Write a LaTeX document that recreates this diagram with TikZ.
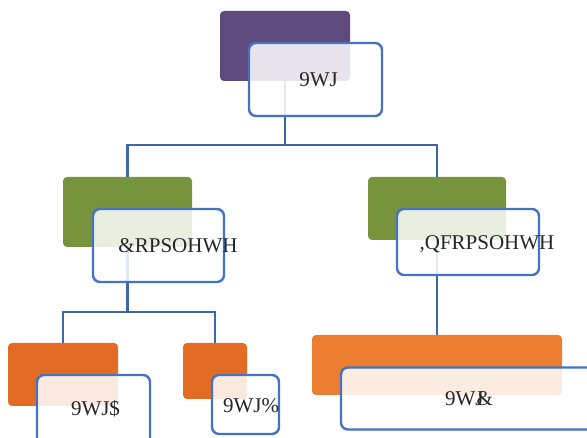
\documentclass[tikz,border=0pt]{standalone}
\usepackage{fontspec}
\setmainfont{Liberation Serif}
\definecolor{vtgpurple}{RGB}{95,74,125}
\definecolor{vtggreen}{RGB}{119,147,60}
\definecolor{vtgorange}{RGB}{227,108,37}
\definecolor{vtglight}{RGB}{237,125,49}
\definecolor{boxblue}{RGB}{68,114,196}
\definecolor{lineblue}{RGB}{61,103,165}
\begin{document}
\begin{tikzpicture}[x=1pt,y=-1pt,
	bg/.style={rectangle,rounded corners=4pt,inner sep=0pt},
	card/.style={rectangle,rounded corners=7pt,inner sep=0pt,draw=boxblue,line width=2.4pt,fill=white,fill opacity=.85},
	txt/.style={anchor=base,inner sep=0pt,text=black!85,font=\fontsize{21}{24}\selectfont},
	conn/.style={draw=lineblue,line width=2.8pt}]
	\useasboundingbox (0,0) rectangle (587,438);
	% coloured back plates
	\node[bg,fill=vtgpurple,minimum width=130pt,minimum height=70pt](vtgBg) at (285,46) {};
	\node[bg,fill=vtggreen,minimum width=129pt,minimum height=70pt](complBg) at (127.5,212) {};
	\node[bg,fill=vtggreen,minimum width=138pt,minimum height=63pt](incomplBg) at (437,208.5) {};
	\node[bg,fill=vtgorange,minimum width=110pt,minimum height=63pt](vtgABg) at (63,374.5) {};
	\node[bg,fill=vtgorange,minimum width=64pt,minimum height=56pt](vtgBBg) at (215,371) {};
	\node[bg,fill=vtglight,minimum width=250pt,minimum height=60pt](vtgCBg) at (437,365) {};
	% connectors
	\coordinate (busTop) at (285,145);
	\coordinate (busLeft) at (127.5,312);
	\draw[conn] (vtgBg.south) -- (busTop) -| (complBg.north);
	\draw[conn] (busTop) -| (incomplBg.north);
	\draw[conn] (complBg.south) -- (busLeft) -| (vtgABg.north);
	\draw[conn] (busLeft) -| (vtgBBg.north);
	\draw[conn] (incomplBg.south) -- (vtgCBg.north);
	% front cards
	\node[card,minimum width=133pt,minimum height=73pt](vtgBox) at (315.5,79.5) {};
	\node[card,minimum width=131pt,minimum height=73pt](complBox) at (158.5,245.5) {};
	\node[card,minimum width=142pt,minimum height=66pt](incomplBox) at (468,242) {};
	\node[card,minimum width=113pt,minimum height=70pt](vtgABox) at (93.5,410) {};
	\node[card,minimum width=67pt,minimum height=59pt](vtgBBox) at (245.5,404.5) {};
	\node[card,minimum width=269pt,minimum height=62pt](vtgCBox) at (475.5,398.5) {};
	% texts
	\node[txt](vtgTxt) at (318.5,87) {9WJ};
	\node[txt](complTxt) at (178,252.5) {\&RPSOHWH};
	\node[txt](incomplTxt) at (487,250) {,QFRPSOHWH};
	\node[txt](vtgATxt) at (95.5,416) {9WJ\$};
	\node[txt](vtgBTxt) at (251,412.5) {9WJ\%};
	\node[txt](vtgCTxt) at (469,406) {9WJ\kern-7pt\&};
\end{tikzpicture}
\end{document}
